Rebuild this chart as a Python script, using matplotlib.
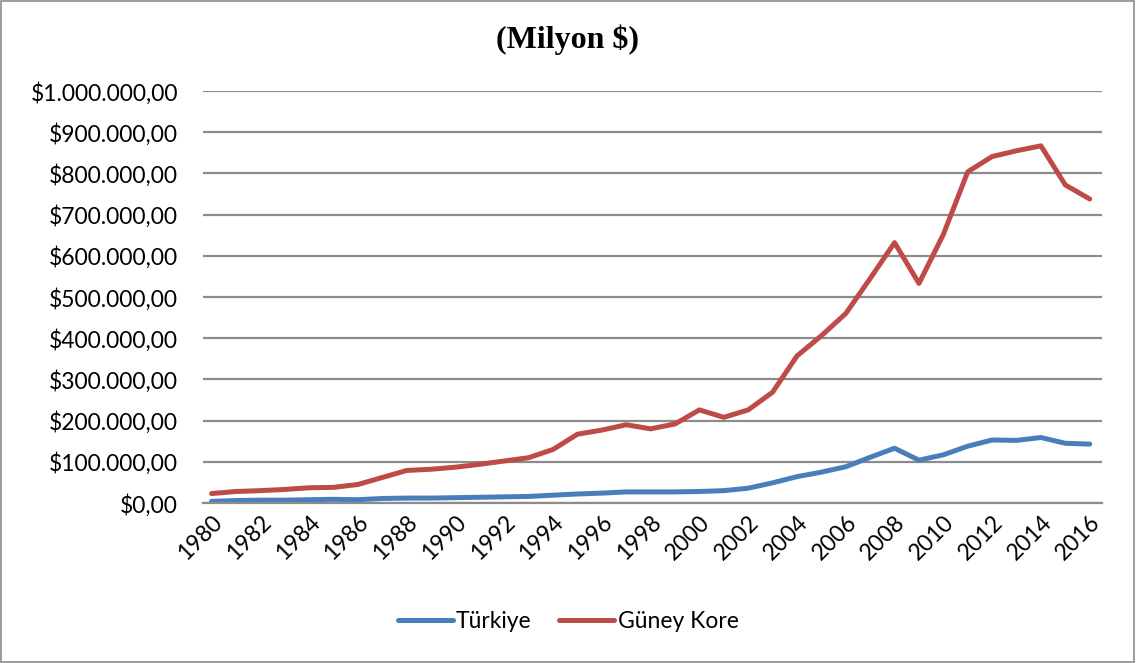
import matplotlib
matplotlib.use("Agg")
import matplotlib.pyplot as plt
from matplotlib.ticker import FuncFormatter
from matplotlib.patches import Rectangle

# years and series values (milyon $)
years = list(range(1980, 2017))
turkiye = [4000, 6000, 7000, 7000, 8000, 9000, 8000, 11000, 12000, 12000,
           13000, 14000, 15000, 16000, 19000, 22000, 24000, 27000, 27000, 27000,
           28000, 30000, 36000, 49000, 64000, 75000, 88000, 111000, 133000, 104000,
           117000, 138000, 153000, 152000, 159000, 145000, 143000]
guney_kore = [23000, 28000, 30000, 33000, 37000, 38000, 45000, 62000, 79000, 82000,
              87000, 94000, 102000, 110000, 130000, 167000, 177000, 190000, 180000, 192000,
              226000, 208000, 226000, 269000, 357000, 406000, 460000, 545000, 632000, 533000,
              652000, 804000, 841000, 855000, 867000, 772000, 738000]
year_ticks = list(range(1980, 2017, 2))
y_ticks = list(range(0, 1000001, 100000))


def money(v, pos=None):
    s = "{:,.2f}".format(v)
    s = s.replace(",", "X").replace(".", ",").replace("X", ".")
    return "$" + s


fig = plt.figure(figsize=(11.36, 6.63), dpi=100)
ax = fig.add_axes([0.1787, 0.2413, 0.7913, 0.6214])

ax.plot(years, turkiye, color="#4A7EBB", lw=3.6, label="Türkiye", solid_capstyle="round")
ax.plot(years, guney_kore, color="#BE4B48", lw=3.6, label="Güney Kore", solid_capstyle="round")

ax.set_xlim(1979.65, 2016.5)
ax.set_ylim(0, 1000000)
ax.set_yticks(y_ticks)
ax.yaxis.set_major_formatter(FuncFormatter(money))
ax.set_xticks(year_ticks)
ax.set_xticklabels([str(y) for y in year_ticks], rotation=45, ha="right",
                   rotation_mode="anchor")

ax.grid(axis="y", color="#8c8c8c", lw=1.6)
ax.set_axisbelow(True)
for side in ["top", "right", "left"]:
    ax.spines[side].set_visible(False)
ax.spines["bottom"].set_color("#8c8c8c")
ax.spines["bottom"].set_linewidth(1.6)
ax.tick_params(axis="y", length=0, pad=18, labelsize=16.5)
ax.tick_params(axis="x", length=0, pad=6, labelsize=16.5)
for lab in ax.get_xticklabels() + ax.get_yticklabels():
    lab.set_fontfamily("Lato")

fig.text(0.5, 0.94, "(Milyon $)", ha="center", va="center",
         fontsize=23, fontweight="bold", family="Liberation Serif")

leg = fig.legend(loc="center", bbox_to_anchor=(0.5, 0.062), ncol=2, frameon=False,
                 prop={"family": "Lato", "size": 16.5}, handlelength=2.4,
                 handletextpad=0.15, columnspacing=1.2)

# chart border
fig.patches.append(Rectangle((0.001, 0.001), 0.997, 0.997, transform=fig.transFigure,
                             fill=False, edgecolor="#8c8c8c", lw=1.2))

fig.savefig("out.png", dpi=100)
